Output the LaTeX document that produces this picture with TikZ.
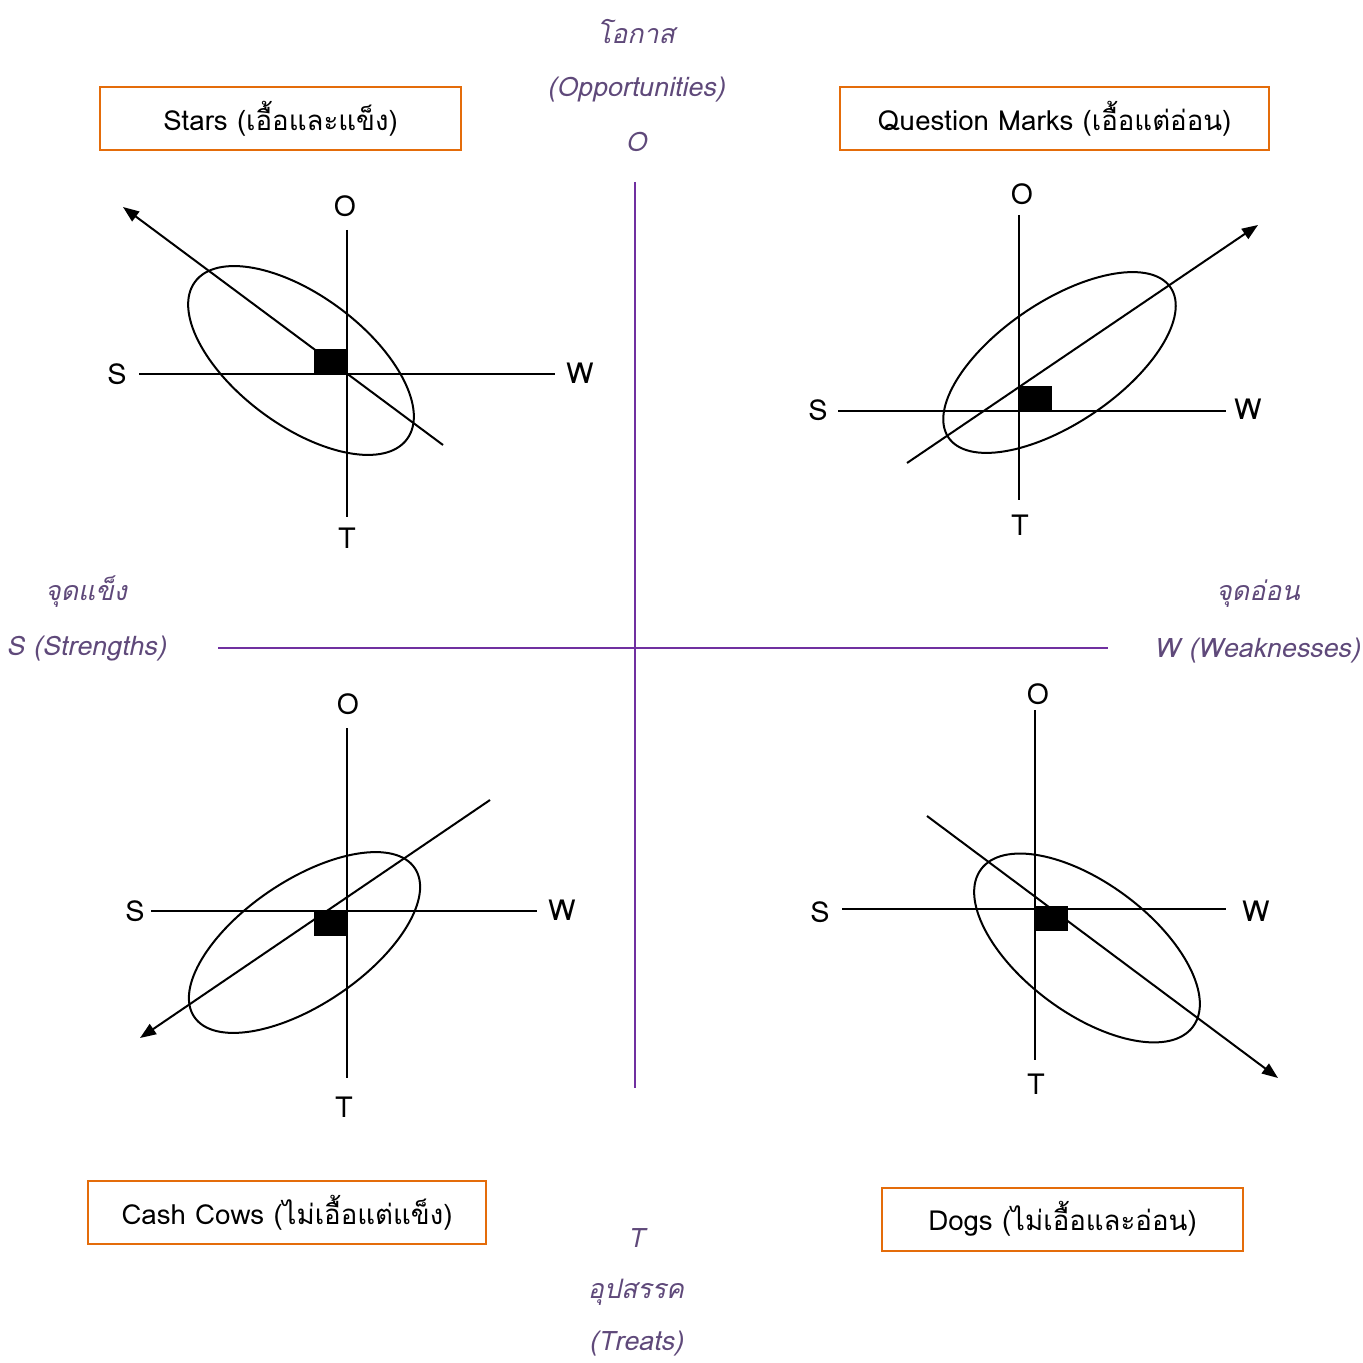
\documentclass[tikz,border=0pt]{standalone}
\usepackage{fontspec}
\setmainfont{Loma}[Script=Thai]
\usetikzlibrary{arrows.meta}
\definecolor{axispurple}{RGB}{112,48,160}
\definecolor{labelpurple}{RGB}{95,73,122}
\definecolor{boxorange}{RGB}{228,108,10}
\tikzset{
  quadbox/.style={draw=boxorange, line width=1pt, fill=white, minimum height=31.5pt,
    inner sep=0pt, font=\fontsize{13.8}{17}\selectfont},
  sidelabel/.style={text=labelpurple, font=\fontsize{13.4}{17}\selectfont\itshape},
  pole/.style={font=\fontsize{14.5}{17}\selectfont, inner sep=0pt},
  mainaxis/.style={draw=axispurple, line width=1pt},
  subaxis/.style={draw=black, line width=1pt},
  trend/.style={-{Triangle[length=8pt,width=6pt]}, line width=1pt},
  ring/.style={draw=black, line width=1pt},
  marker/.style={fill=black, minimum width=16.5pt, minimum height=12.5pt, inner sep=0pt}
}

\begin{document}
\begin{tikzpicture}[x=0.5pt,y=-0.5pt]
  \useasboundingbox (0,0) rectangle (1362,1363);

  % main cross
  \coordinate (axtop) at (635,182);
  \coordinate (axbot) at (635,1088);
  \coordinate (axleft) at (218,648);
  \coordinate (axright) at (1108,648);
  \draw[mainaxis] (axtop) -- (axbot);
  \draw[mainaxis] (axleft) -- (axright);

  \node[sidelabel] (oppth) at (636,32) {โอกาส};
  \node[sidelabel] (opp) at (636,90) {(Opportunities)};
  \node[sidelabel] (oppo) at (636,142) {O};
  \node[sidelabel] (thrt) at (636,1238) {T};
  \node[sidelabel] (thrth) at (636,1292) {อุปสรรค};
  \node[sidelabel] (thr) at (636,1344) {(Treats)};
  \node[sidelabel] (strth) at (86,592) {จุดแข็ง};
  \node[sidelabel] (str) at (86,649) {S (Strengths)};
  \node[sidelabel] (wkth) at (1258,594) {จุดอ่อน};
  \node[sidelabel] (wk) at (1257,651) {W (Weaknesses)};

  % quadrant titles
  \node[quadbox, minimum width=180.5pt] (stars) at (280.5,118.5) {Stars (เอื้อและแข็ง)};
  \node[quadbox, minimum width=214.5pt] (qmarks) at (1054.5,118.5) {Question Marks (เอื้อแต่อ่อน)};
  \node[quadbox, minimum width=199pt] (cows) at (287,1212.5) {Cash Cows (ไม่เอื้อแต่แข็ง)};
  \node[quadbox, minimum width=180.5pt] (dogs) at (1062.5,1219) {Dogs (ไม่เอื้อและอ่อน)};

  % Stars
  \coordinate (stO) at (347,230);
  \coordinate (stT) at (347,517);
  \coordinate (stS) at (139,374);
  \coordinate (stW) at (555,374);
  \coordinate (stX) at (347,374);
  \coordinate (stC) at (301,360.5);
  \coordinate (stA) at (443,445);
  \coordinate (stB) at (123,207);
  \draw[ring, rotate around={-36.6:(stC)}] (stC) ellipse [x radius=132, y radius=65];
  \draw[subaxis] (stO) -- (stT);
  \draw[subaxis] (stS) -- (stW);
  \draw[trend] (stA) -- (stB);
  \node[marker, anchor=south east] (stm) at (stX) {};
  \node[pole] (stOl) at (345,206) {O};
  \node[pole] (stTl) at (347,538) {T};
  \node[pole] (stSl) at (117,374) {S};
  \node[pole] (stWl) at (580,373) {W};

  % Question Marks
  \coordinate (qmO) at (1019,215);
  \coordinate (qmT) at (1019,500);
  \coordinate (qmS) at (838,411.5);
  \coordinate (qmW) at (1226,411.5);
  \coordinate (qmX) at (1019,411.5);
  \coordinate (qmC) at (1059.5,362.5);
  \coordinate (qmA) at (907,463);
  \coordinate (qmB) at (1258,225);
  \draw[ring, rotate around={34:(qmC)}] (qmC) ellipse [x radius=134, y radius=61];
  \draw[subaxis] (qmO) -- (qmT);
  \draw[subaxis] (qmS) -- (qmW);
  \draw[trend] (qmA) -- (qmB);
  \node[marker, anchor=south west] (qmm) at (qmX) {};
  \node[pole] (qmOl) at (1022,194) {O};
  \node[pole] (qmTl) at (1020,525) {T};
  \node[pole] (qmSl) at (818,410) {S};
  \node[pole] (qmWl) at (1248,409) {W};

  % Cash Cows
  \coordinate (ccO) at (347,728);
  \coordinate (ccT) at (347,1078);
  \coordinate (ccS) at (151,911);
  \coordinate (ccW) at (537,911);
  \coordinate (ccX) at (347,911);
  \coordinate (ccC) at (304.5,942.5);
  \coordinate (ccA) at (490,800);
  \coordinate (ccB) at (140,1038);
  \draw[ring, rotate around={34:(ccC)}] (ccC) ellipse [x radius=133, y radius=62];
  \draw[subaxis] (ccO) -- (ccT);
  \draw[subaxis] (ccS) -- (ccW);
  \draw[trend] (ccA) -- (ccB);
  \node[marker, anchor=north east] (ccm) at (ccX) {};
  \node[pole] (ccOl) at (348,704) {O};
  \node[pole] (ccTl) at (344,1107) {T};
  \node[pole] (ccSl) at (135,911) {S};
  \node[pole] (ccWl) at (562,910) {W};

  % Dogs
  \coordinate (dgO) at (1035,710);
  \coordinate (dgT) at (1035,1060);
  \coordinate (dgS) at (842,909);
  \coordinate (dgW) at (1226,909);
  \coordinate (dgX) at (1035,906);
  \coordinate (dgC) at (1087,948);
  \coordinate (dgA) at (927,816);
  \coordinate (dgB) at (1278,1078);
  \draw[ring, rotate around={-36.6:(dgC)}] (dgC) ellipse [x radius=132, y radius=65];
  \draw[subaxis] (dgO) -- (dgT);
  \draw[subaxis] (dgS) -- (dgW);
  \draw[trend] (dgA) -- (dgB);
  \node[marker, anchor=north west] (dgm) at (dgX) {};
  \node[pole] (dgOl) at (1038,694) {O};
  \node[pole] (dgTl) at (1036,1084) {T};
  \node[pole] (dgSl) at (820,912) {S};
  \node[pole] (dgWl) at (1256,911) {W};
\end{tikzpicture}
\end{document}
